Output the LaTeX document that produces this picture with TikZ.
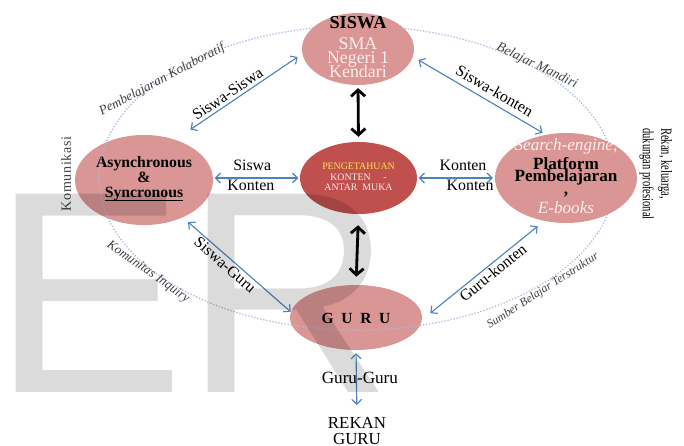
\documentclass[tikz,border=0pt]{standalone}
\usepackage{fontspec}
\usepackage{graphicx}
\setmainfont{Liberation Serif}
\newfontfamily\hurufwm{Liberation Sans}
\usetikzlibrary{arrows.meta,shapes.geometric}

\definecolor{merahmuda}{HTML}{D99694}
\definecolor{merahtua}{HTML}{C0504D}
\definecolor{biru}{HTML}{4F81BD}
\definecolor{birumuda}{HTML}{A3BCDF}
\definecolor{putihmerah}{HTML}{FBEDED}
\definecolor{kuning}{HTML}{FFE34F}
\definecolor{abutua}{HTML}{3F3F3F}

\newsavebox\kotakgaris
\newcommand{\garisbawah}[1]{\sbox\kotakgaris{#1}\rlap{\rule[-2.2pt]{\wd\kotakgaris}{0.6pt}}\usebox\kotakgaris}
\newcommand{\rapat}{\lineskiplimit=-\maxdimen}

\tikzset{
    bulat/.style 2 args={ellipse, fill=merahmuda, inner sep=0pt,
        minimum width=#1*0.025cm, minimum height=#2*0.025cm},
    panahbiru/.style={biru, line width=0.8pt, <->},
    panahhitam/.style={>={Straight Barb[length=4.5pt,width=10pt]}, black, line width=2pt, <->},
    cincin/.style={birumuda, line width=0.9pt, dash pattern=on 0.9pt off 1.3pt},
    cincinlabel/.style={abutua, inner sep=0pt, font=\fontsize{#1}{#1}\selectfont\itshape},
    labelpanah/.style={text=black, inner sep=0pt, font=\fontsize{11.3}{12}\selectfont},
}

\begin{document}
\begin{tikzpicture}[x=0.025cm, y=-0.025cm, >={Straight Barb[length=3.5pt,width=7pt]}]
    \useasboundingbox (0,0) rectangle (684,446);

    % lingkaran bawah (di bawah garis titik-titik)
    \node[bulat={138}{90}, label={[align=center, yshift=1pt, font=\fontsize{11.2}{10.9}\selectfont\bfseries\rapat]center:{Asynchronous\\\&\\\garisbawah{Syncronous}}}] (sinkron) at (144,180) {};
    \node[bulat={132}{65}, label={[yshift=-0.6pt, font=\fontsize{11}{11}\selectfont\bfseries]center:{G\ \ U\ \ R\ \ U}}] (guru) at (356,317.5) {};

    \draw[cincin] (357,178) ellipse [x radius=258, y radius=152];

    % lingkaran atas
    \node[bulat={112}{72}, label={[align=center, yshift=1.6pt, font=\fontsize{12.7}{9.8}\selectfont\rapat]center:{\textbf{\fontsize{13}{13}\selectfont SISWA}\\[5.6pt]\textcolor{putihmerah}{SMA}\\\textcolor{putihmerah}{Negeri 1}\\\textcolor{putihmerah}{Kendari}}}] (siswa) at (358,49) {};
    \node[bulat={142}{90}, label={[align=center, yshift=1.5pt, font=\fontsize{12.2}{8.8}\selectfont\rapat]center:{\textcolor{putihmerah}{\itshape Search-engine,}\\[4.9pt]\textbf{Platform}\\\textbf{Pembelajaran}\\\textbf{,}\\[4.9pt]\textcolor{putihmerah}{\itshape E-books}}}] (platform) at (566,178) {};
    \node[bulat={117}{72}, fill=merahtua, label={[align=center, yshift=0.85pt, font=\fontsize{7}{7.6}\selectfont\rapat]center:{\textcolor{kuning}{PENGETAHUAN}\\\textcolor{putihmerah}{KONTEN\hspace{9pt}-}\\\textcolor{putihmerah}{ANTAR\ \ MUKA}}}] (pusat) at (358.5,178) {};

    \node[anchor=north, inner sep=0pt, align=center, font=\fontsize{12}{11.2}\selectfont\rapat] (rekan) at (357,417) {REKAN\\GURU};

    % panah hitam
    \draw[panahhitam, shorten <=2pt, shorten >=3.5pt] (siswa.south) -- (pusat.north);
    \draw[panahhitam, shorten <=7.8pt, shorten >=5.7pt] (pusat.south) -- (guru.north);

    % panah biru
    \draw[panahbiru, shorten <=12.8pt, shorten >=4pt] (sinkron.52) -- node[labelpanah, sloped, above=2pt, pos=0.45] (lsiswa-siswa) {Siswa-Siswa} (siswa.185);
    \draw[panahbiru, shorten <=4.5pt, shorten >=2.6pt] (siswa.-8) -- node[labelpanah, sloped, above=4pt, pos=0.57] (lsiswa-konten) {Siswa-konten} (platform.115);
    \draw[panahbiru, shorten <=5pt] (sinkron.-44) -- node[labelpanah, sloped, below=1.4pt, pos=0.44] (lsiswa-guru) {Siswa-Guru} (guru.175);
    \draw[panahbiru, shorten <=7.5pt, shorten >=5.8pt] (guru.-2) -- node[labelpanah, sloped, below=1.2pt, pos=0.54] (lguru-konten) {Guru-konten} (platform.243);
    \draw[panahbiru, shorten <=1pt, shorten >=1pt] (sinkron.east |- pusat.west) -- node[labelpanah, above=4.7pt, xshift=-3pt] (lsiswa) {Siswa} node[labelpanah, below=1.1pt, xshift=-4pt] (lkonten1) {Konten} (pusat.west);
    \draw[panahbiru, shorten <=1pt, shorten >=1.4pt] (pusat.east) -- node[labelpanah, above=4.7pt, xshift=5pt] (lkonten2) {Konten} node[labelpanah, below=1.1pt, xshift=10pt] (lkonten3) {Konten} (platform.west);
    \draw[panahbiru, shorten <=2pt, shorten >=8.5pt] (guru.south) -- node[labelpanah, pos=0.41, xshift=2.5pt, font=\fontsize{12.2}{12}\selectfont] (lguru-guru) {Guru-Guru} (rekan.north);

    % tulisan di sekitar cincin
    \foreach \nama/\x/\y/\sudut/\uk/\teks in {kolab/162/80/28/9.4/Pembelajaran Kolaboratif, mandiri/537/66/-26/9.6/Belajar Mandiri, inkuiri/148/272/-35/9.2/Komunitas Inquiry, sumber/543/291/33/8.4/Sumber Belajar Terstruktur}
        \node[cincinlabel=\uk, rotate=\sudut] (\nama) at (\x,\y) {\teks};
    \node[abutua, inner sep=0pt, rotate=90, font=\fontsize{10}{10}\selectfont\addfontfeatures{LetterSpace=4.5}] (komunikasi) at (66,174) {Komunikasi};
    \node[rotate=-90, anchor=north west, inner sep=0pt, align=left, font=\fontsize{11}{13.3}\selectfont\rapat] (dukungan) at (672.5,128) {\scalebox{0.68}[1]{Rekan, keluarga,}\\\scalebox{0.68}[1]{dukungan profesional}};

    % tanda air
    \node[anchor=base west, inner sep=0pt, text=black, text opacity=0.14, font=\hurufwm\fontsize{205}{205}\selectfont] (tandaair) at (-8,392) {ER};
\end{tikzpicture}
\end{document}
